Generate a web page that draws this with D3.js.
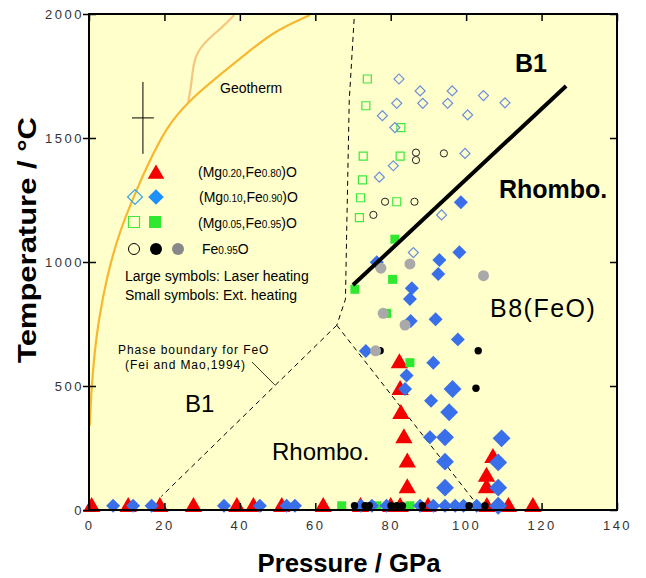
<!DOCTYPE html>
<html>
<head>
<meta charset="utf-8">
<script src="https://cdn.jsdelivr.net/npm/d3@7"></script>
<style>
  body { margin: 0; background: #fff; }
  svg { display: block; font-family: "Liberation Sans", Arial, sans-serif; }
</style>
</head>
<body>
<div id="chart"></div>
<script>
// ---- data (pressure GPa, temperature °C) ----
let xTicks = [0, 20, 40, 60, 80, 100, 120, 140];
let yTicks = [0, 500, 1000, 1500, 2000];

// (Mg0.20,Fe0.80)O  - laser heating
let redTriangles = [
  [82.3, 592], [82.5, 484], [82.7, 387], [83.5, 289], [84.4, 192], [84.4, 88],
  [107.1, 210], [105.4, 134], [105.4, 88],
  [0.7, 12], [10.4, 12], [18.8, 12], [27.7, 12], [39.2, 12], [43.6, 12], [51.1, 12],
  [62.1, 12], [72.0, 12], [80.0, 12], [82.5, 12], [89.9, 12], [105.5, 12], [111.2, 12], [117.7, 12]
];
// (Mg0.10,Fe0.90)O
let openDiamonds = [
  [82.2, 1738], [87.8, 1690], [96.3, 1690], [104.6, 1671], [110.3, 1642], [81.6, 1640],
  [88.5, 1640], [95.1, 1640], [77.8, 1590], [100.4, 1593], [81.1, 1542], [99.7, 1438],
  [80.7, 1388], [77.0, 1342], [93.5, 1190], [86.0, 1038]
];
let blueDiamonds = [
  [98.6, 1241], [98.2, 1039], [92.9, 1008], [92.6, 952], [85.6, 894], [85.1, 851],
  [76.3, 999], [85.3, 762], [91.9, 769], [97.8, 688], [73.4, 641], [91.3, 594],
  [84.2, 542], [83.8, 488], [90.7, 441], [90.4, 293],
  [6.4, 17], [11.7, 17], [16.6, 17], [35.8, 17], [45.3, 17], [52.4, 17], [54.6, 17],
  [72.1, 17], [75.0, 17], [78.9, 17], [87.8, 17], [91.3, 17], [94.4, 17], [97.1, 17],
  [99.3, 17], [102.8, 17]
];
let blueDiamondsBig = [
  [96.4, 488], [95.5, 394], [94.4, 293], [109.4, 289], [94.4, 195], [108.5, 192],
  [94.4, 90], [108.5, 90], [108.5, 17]
];
// (Mg0.05,Fe0.95)O
let openSquares = [
  [73.8, 1738], [73.4, 1630], [82.7, 1542], [72.7, 1427], [82.5, 1427], [72.5, 1331],
  [72.0, 1259], [81.6, 1243], [71.7, 1179]
];
let greenSquares = [
  [81.1, 1092], [80.5, 930], [70.5, 890], [78.9, 793], [85.1, 594],
  [67.0, 17], [76.3, 17], [85.1, 17]
];
// Fe0.95O
let openCircles = [
  [86.7, 1441], [86.7, 1411], [94.1, 1438], [78.5, 1243], [86.3, 1243], [75.4, 1190]
];
let blackDots = [
  [77.2, 642], [103.2, 642], [102.6, 491],
  [70.4, 17], [73.2, 17], [74.3, 17], [80.1, 17], [81.6, 17], [83.1, 17],
  [88.4, 17], [100.8, 17], [105.0, 17]
];
let grayCircles = [
  [77.4, 975], [85.1, 992], [104.6, 945], [78.0, 793], [83.8, 746], [76.0, 642]
];

// boundaries
let geotherm = [
  [0.2, 340], [0.6, 480], [1.5, 640], [2.5, 760], [4.7, 941], [8.2, 1129], [12.2, 1275],
  [15.3, 1384], [20.6, 1546], [26.3, 1646], [33, 1734], [41.8, 1841], [48.9, 1929], [58.6, 1996]
];
let geothermBranch = [
  [26.3, 1646], [27.0, 1700], [27.4, 1760], [28.1, 1835], [31.2, 1895], [35.6, 1949], [38.5, 1996]
];
let feoVertical = [[70.3, 1980], [69.0, 1650], [68.3, 1100], [68.0, 850], [65.7, 745]];
let feoLeft = [[65.7, 745], [19.2, 55]];
let feoRight = [[65.7, 745], [103.5, 10]];
let b1Rhombo = [[70, 907], [126.5, 1710]];
let pointer = [[43.2, 597], [49.3, 504]];
let errorBar = { p: 14.3, t: 1581, dp: 2.9, dt: 145 };

// ---- layout ----
let margin = { top: 14, right: 29, bottom: 68, left: 89 };
let width = 646, height = 578;

let svg = d3.select("#chart")
    .append("svg")
    .attr("width", width)
    .attr("height", height);

let x = d3.scaleLinear().domain([0, 140]).range([margin.left, width - margin.right]);
let y = d3.scaleLinear().domain([0, 2000]).range([height - margin.bottom, margin.top]);

svg.append("rect")
    .attr("x", x(0)).attr("y", y(2000))
    .attr("width", x(140) - x(0)).attr("height", y(0) - y(2000))
    .attr("fill", "#ffffcc");

let line = d3.line().x(d => x(d[0])).y(d => y(d[1]));

// geotherm
svg.append("path").attr("d", line.curve(d3.curveBasis)(geothermBranch))
    .attr("fill", "none").attr("stroke", "#f5c77e").attr("stroke-width", 2.2);
svg.append("path").attr("d", line.curve(d3.curveBasis)(geotherm))
    .attr("fill", "none").attr("stroke", "#f7b72f").attr("stroke-width", 2.2);
line.curve(d3.curveLinear);

// FeO phase boundary (dashed)
[feoVertical, feoLeft, feoRight].forEach(seg => {
    svg.append("path").attr("d", line(seg))
        .attr("fill", "none").attr("stroke", "#000")
        .attr("stroke-width", 1).attr("stroke-dasharray", "5,4");
});
svg.append("path").attr("d", line(pointer))
    .attr("fill", "none").attr("stroke", "#000").attr("stroke-width", 0.8);

// error bar
svg.append("line")
    .attr("x1", x(errorBar.p)).attr("x2", x(errorBar.p))
    .attr("y1", y(errorBar.t - errorBar.dt)).attr("y2", y(errorBar.t + errorBar.dt))
    .attr("stroke", "#000").attr("stroke-width", 1);
svg.append("line")
    .attr("x1", x(errorBar.p - errorBar.dp)).attr("x2", x(errorBar.p + errorBar.dp))
    .attr("y1", y(errorBar.t)).attr("y2", y(errorBar.t))
    .attr("stroke", "#000").attr("stroke-width", 1);

// symbols
let tri = d3.symbol().type(d3.symbolTriangle);
let sq = d3.symbol().type(d3.symbolSquare);

function drawSymbols(data, path, fill, stroke, sw, rotate) {
    svg.append("g").selectAll("path")
        .data(data)
        .enter()
        .append("path")
        .attr("d", path)
        .attr("transform", d => "translate(" + x(d[0]) + "," + y(d[1]) + ")" + (rotate ? " rotate(45)" : ""))
        .attr("fill", fill)
        .attr("stroke", stroke)
        .attr("stroke-width", sw);
}
function drawCircles(data, r, fill, stroke, sw) {
    svg.append("g").selectAll("circle")
        .data(data)
        .enter()
        .append("circle")
        .attr("cx", d => x(d[0])).attr("cy", d => y(d[1])).attr("r", r)
        .attr("fill", fill).attr("stroke", stroke).attr("stroke-width", sw);
}

drawSymbols(openSquares, sq.size(64)(), "none", "#3ee83e", 1.2, false);
drawSymbols(openDiamonds, sq.size(50)(), "none", "#6d8fd8", 1.2, true);
drawCircles(openCircles, 3.6, "none", "#222", 1);
drawSymbols(redTriangles, tri.size(130)(), "#f50000", "none", 0, false);
drawSymbols(greenSquares, sq.size(81)(), "#2fe82f", "none", 0, false);
drawSymbols(blueDiamonds, sq.size(98)(), "#3a6fea", "none", 0, true);
drawSymbols(blueDiamondsBig, sq.size(160)(), "#3a6fea", "none", 0, true);
drawCircles(blackDots, 3.7, "#000", "none", 0);
drawCircles(grayCircles, 5.5, "#a9a9a9", "none", 0);

svg.append("path").attr("d", line(b1Rhombo))
    .attr("fill", "none").attr("stroke", "#000").attr("stroke-width", 4);

// ---- axes ----
let tickFont = g => g.selectAll("text")
    .attr("font-size", 13)
    .attr("letter-spacing", "2.5px")
    .attr("fill", "#333")
    .attr("font-family", "'Liberation Sans', Arial, sans-serif");

let xAxis = svg.append("g")
    .attr("transform", "translate(0," + y(0) + ")")
    .call(d3.axisBottom(x).tickValues(xTicks).tickFormat(d3.format("d"))
        .tickSizeInner(-7).tickSizeOuter(0).tickPadding(11))
    .call(tickFont);
xAxis.select(".domain").remove();

svg.append("g")
    .attr("transform", "translate(0," + y(2000) + ")")
    .call(d3.axisTop(x).tickValues(xTicks).tickSizeInner(-7).tickSizeOuter(0).tickFormat(""))
    .select(".domain").remove();

let yAxis = svg.append("g")
    .attr("transform", "translate(" + x(0) + ",0)")
    .call(d3.axisLeft(y).tickValues(yTicks).tickFormat(d3.format("d"))
        .tickSizeInner(6).tickSizeOuter(0).tickPadding(1))
    .call(tickFont);
yAxis.select(".domain").remove();
yAxis.selectAll("text").attr("dx", "2px");
svg.append("g")
    .attr("transform", "translate(" + x(0) + ",0)")
    .call(d3.axisLeft(y).tickValues(yTicks).tickSizeInner(-7).tickSizeOuter(0).tickFormat(""))
    .select(".domain").remove();
svg.append("g")
    .attr("transform", "translate(" + x(140) + ",0)")
    .call(d3.axisRight(y).tickValues(yTicks).tickSizeInner(-7).tickSizeOuter(0).tickFormat(""))
    .select(".domain").remove();
svg.selectAll(".tick line").attr("stroke", "#000").attr("stroke-width", 1.5);

svg.append("rect")
    .attr("x", x(0)).attr("y", y(2000))
    .attr("width", x(140) - x(0)).attr("height", y(0) - y(2000))
    .attr("fill", "none").attr("stroke", "#000").attr("stroke-width", 2);

svg.append("text")
    .attr("x", 349).attr("y", 572)
    .attr("text-anchor", "middle")
    .attr("font-size", 26).attr("font-weight", "bold")
    .attr("textLength", 183).attr("lengthAdjust", "spacingAndGlyphs")
    .text("Pressure / GPa");

svg.append("text")
    .attr("transform", "translate(36,240) rotate(-90)")
    .attr("text-anchor", "middle")
    .attr("font-size", 26).attr("font-weight", "bold")
    .attr("textLength", 246).attr("lengthAdjust", "spacingAndGlyphs")
    .text("Temperature / °C");

// ---- annotations ----
let label = (px, py, txt, size, weight, spacing) => svg.append("text")
    .attr("x", px).attr("y", py)
    .attr("font-size", size).attr("font-weight", weight || "normal")
    .attr("letter-spacing", spacing || 0)
    .attr("fill", "#000")
    .text(txt);

label(515, 72, "B1", 25, "bold");
label(499, 198, "Rhombo.", 25, "bold");
label(490, 317, "B8(FeO)", 25, "normal", "1.5px");
label(185, 412, "B1", 24);
label(272, 460, "Rhombo.", 24);
label(220, 93, "Geotherm", 14);
label(118, 354, "Phase boundary for FeO", 12, "normal", "0.9px");
label(125, 369, "(Fei and Mao,1994)", 12, "normal", "0.9px");

// legend
let leg = svg.append("g");
let legSym = (px, py, path, fill, stroke, rot) => leg.append("path")
    .attr("d", path)
    .attr("transform", "translate(" + px + "," + py + ")" + (rot ? " rotate(45)" : ""))
    .attr("fill", fill).attr("stroke", stroke).attr("stroke-width", 1.2);

legSym(156, 174, tri.size(120)(), "#f50000", "none");
legSym(135, 197, sq.size(110)(), "none", "#3ba4e6", true);
legSym(156, 197, sq.size(120)(), "#1e8fff", "none", true);
legSym(134, 222, sq.size(121)(), "none", "#3ee83e");
legSym(155, 222, sq.size(144)(), "#2fe82f", "none");
leg.append("circle").attr("cx", 134).attr("cy", 249).attr("r", 5.5)
    .attr("fill", "none").attr("stroke", "#000").attr("stroke-width", 1);
leg.append("circle").attr("cx", 156).attr("cy", 249).attr("r", 6)
    .attr("fill", "#000");
leg.append("circle").attr("cx", 178).attr("cy", 249).attr("r", 6)
    .attr("fill", "#888");

let legText = (px, py, parts) => {
    let t = leg.append("text").attr("x", px).attr("y", py).attr("font-size", 14);
    parts.forEach(p => t.append("tspan").attr("font-size", p[1] ? 10 : 14).text(p[0]));
};
legText(198, 177, [["(Mg"], ["0.20", 1], [",Fe"], ["0.80", 1], [")O"]]);
legText(199, 202, [["(Mg"], ["0.10", 1], [",Fe"], ["0.90", 1], [")O"]]);
legText(198, 228, [["(Mg"], ["0.05", 1], [",Fe"], ["0.95", 1], [")O"]]);
legText(202, 254, [["Fe"], ["0.95", 1], ["O"]]);
leg.append("text").attr("x", 125).attr("y", 281).attr("font-size", 14).text("Large symbols: Laser heating");
leg.append("text").attr("x", 125).attr("y", 300).attr("font-size", 14).text("Small symbols: Ext. heating");
</script>
</body>
</html>
